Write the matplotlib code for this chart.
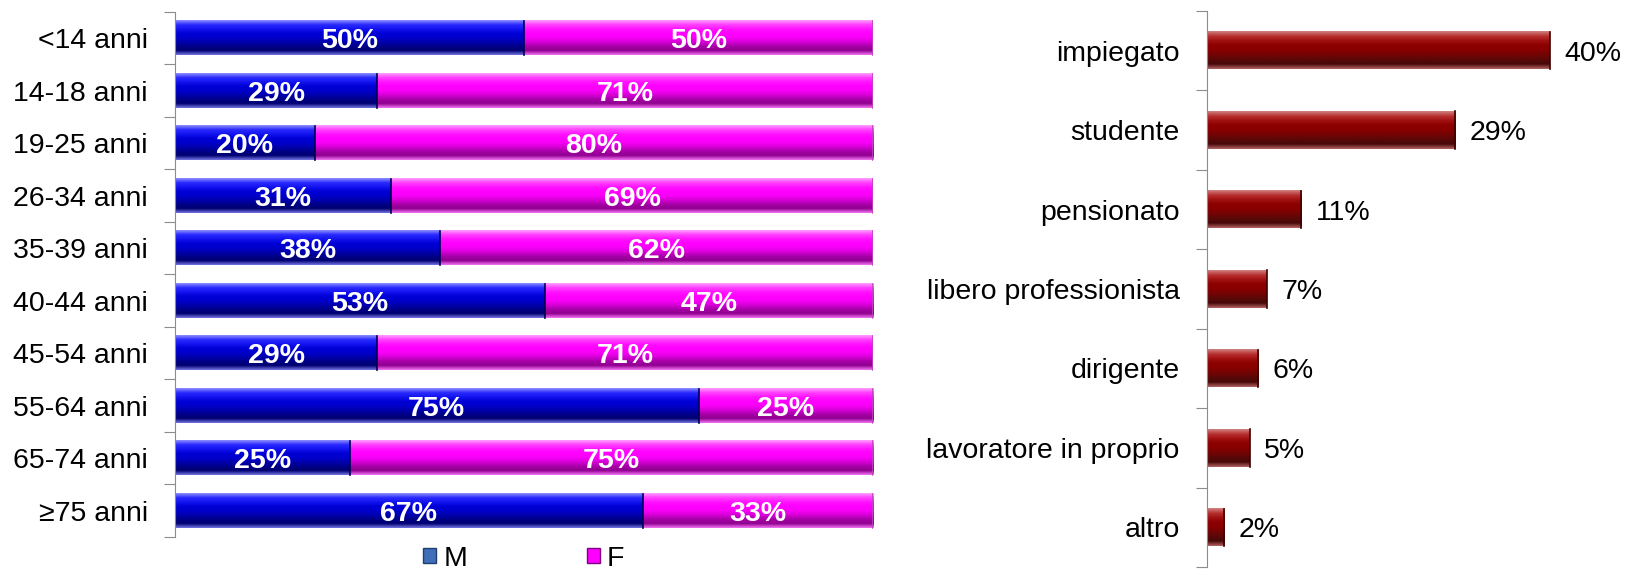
import numpy as np
import matplotlib.pyplot as plt
from matplotlib.colors import LinearSegmentedColormap
from matplotlib.patches import Patch

plt.rcParams["font.family"] = ["Liberation Sans", "DejaVu Sans"]

# age groups, share of males / females (%)
age_groups = ["<14 anni", "14-18 anni", "19-25 anni", "26-34 anni", "35-39 anni",
              "40-44 anni", "45-54 anni", "55-64 anni", "65-74 anni", "\u226575 anni"]
male_pct = [50, 29, 20, 31, 38, 53, 29, 75, 25, 67]
female_pct = [50, 71, 80, 69, 62, 47, 71, 25, 75, 33]

# occupation breakdown (%)
occupations = ["impiegato", "studente", "pensionato", "libero professionista",
               "dirigente", "lavoratore in proprio", "altro"]
occupation_pct = [40, 29, 11, 7, 6, 5, 2]

# vertical shading of a bar, top -> bottom
BLUE = ["#8c8cff", "#2a2aff", "#1414f0", "#0000d6", "#0000cc", "#0000b0",
        "#00008a", "#000070", "#7070e0"]
MAGENTA = ["#ff9cff", "#ff40ff", "#ff14ff", "#ff00ff", "#f800f8", "#d800d8",
           "#a800a8", "#900090", "#f070f0"]
DARKRED = ["#d08080", "#b83030", "#a01010", "#8c0000", "#880000", "#740404",
           "#5a0808", "#480808", "#b06060"]
SPINE = "#8c8c8c"
FS = 20.5


def shaded_barh(ax, y, width, left, height, shades, end_color):
    cmap = LinearSegmentedColormap.from_list("shade", shades)
    grad = np.linspace(0, 1, 64).reshape(-1, 1)
    bars = ax.barh(y, width, left=left, height=height, color="none",
                   edgecolor="none")
    for b in bars:
        x0, y0 = b.get_x(), b.get_y()
        w, h = b.get_width(), b.get_height()
        ax.imshow(grad, cmap=cmap, aspect="auto", interpolation="bilinear",
                  extent=[x0, x0 + w, y0 + h, y0], zorder=2)
        ax.plot([x0 + w, x0 + w], [y0, y0 + h], color=end_color, lw=1.2,
                zorder=3)


def style_cat_axis(ax, n, xmax):
    for s in ["top", "right", "bottom"]:
        ax.spines[s].set_visible(False)
    ax.spines["left"].set_color(SPINE)
    ax.set_xlim(0, xmax)
    ax.set_ylim(n - 0.5, -0.5)
    ax.set_yticks([i - 0.5 for i in range(n + 1)])
    ax.set_yticklabels([])
    ax.tick_params(axis="y", which="major", length=8, color=SPINE)
    ax.tick_params(axis="y", which="minor", length=0, pad=19.5, labelsize=FS)
    ax.set_xticks([])


fig = plt.figure(figsize=(16.27, 5.70), dpi=100)

# left: gender split per age group
ax1 = fig.add_axes([0.1076, 0.058, 0.429, 0.921])
pos = list(range(len(age_groups)))
h1 = 0.65
shaded_barh(ax1, pos, male_pct, 0, h1, BLUE, "#000050")
shaded_barh(ax1, pos, female_pct, male_pct, h1, MAGENTA, "#c040c0")
style_cat_axis(ax1, len(age_groups), 100)
ax1.set_yticks(pos, minor=True)
ax1.set_yticklabels(age_groups, minor=True)
for i, (m, f) in enumerate(zip(male_pct, female_pct)):
    ax1.text(m / 2, i, f"{m}%", ha="center", va="center_baseline",
             color="white", fontsize=FS, fontweight="bold", zorder=5)
    ax1.text(m + f / 2, i, f"{f}%", ha="center", va="center_baseline",
             color="white", fontsize=FS, fontweight="bold", zorder=5)

handles = [Patch(facecolor="#3f6fb8", edgecolor="#1f3f70", label="M"),
           Patch(facecolor="#ff00ff", edgecolor="#800080", label="F")]
fig.legend(handles=handles, loc="center", bbox_to_anchor=(0.322, 0.02),
           ncol=2, frameon=False, fontsize=FS, handlelength=0.45,
           handleheight=0.45, handletextpad=0.25, columnspacing=4.2,
           borderpad=0)

# right: occupation
ax2 = fig.add_axes([0.7418, 0.005, 0.237, 0.976])
pos2 = list(range(len(occupations)))
h2 = 0.47
shaded_barh(ax2, pos2, occupation_pct, 0, h2, DARKRED, "#400000")
style_cat_axis(ax2, len(occupations), 45)
ax2.set_yticks(pos2, minor=True)
ax2.set_yticklabels(occupations, minor=True)
for i, v in enumerate(occupation_pct):
    ax2.text(v + 1.7, i, f"{v}%", ha="left", va="center_baseline",
             color="black", fontsize=FS)

fig.savefig("out.png", dpi=100)
